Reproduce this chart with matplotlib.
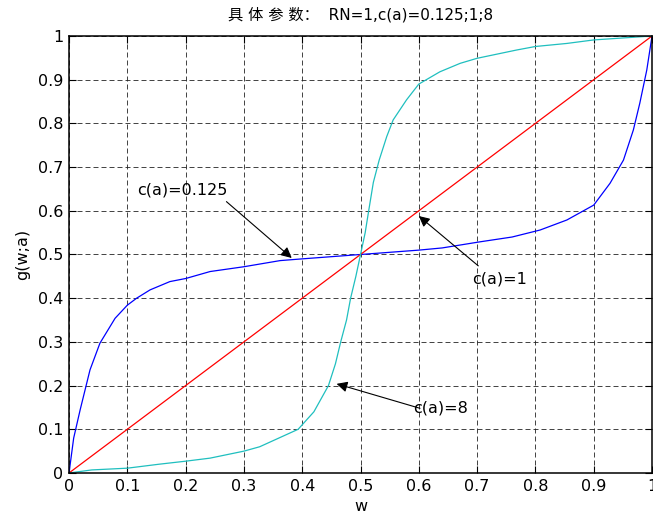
import numpy as np
import matplotlib
matplotlib.use("Agg")
import matplotlib.pyplot as plt

plt.rcParams['font.family'] = ['DejaVu Sans', 'Noto Sans CJK SC']

# values
w_red = [0.0, 0.1, 0.2, 0.3, 0.4, 0.5, 0.6, 0.7, 0.8, 0.9, 1.0]
g_red = [0.0, 0.1, 0.2, 0.3, 0.4, 0.5, 0.6, 0.7, 0.8, 0.9, 1.0]

w_blue = [0.0, 0.008, 0.019, 0.036, 0.053, 0.079, 0.1, 0.116, 0.139, 0.173, 0.2, 0.242,
          0.3, 0.362, 0.4, 0.5, 0.6, 0.64, 0.705, 0.76, 0.808, 0.854, 0.9, 0.928,
          0.951, 0.968, 0.979, 0.991, 1.0]
g_blue = [0.0, 0.08, 0.144, 0.236, 0.297, 0.354, 0.384, 0.4, 0.419, 0.438, 0.445, 0.461,
          0.472, 0.486, 0.49, 0.5, 0.51, 0.515, 0.529, 0.54, 0.556, 0.579, 0.613, 0.663,
          0.716, 0.785, 0.846, 0.922, 1.0]

w_cyan = [0.0, 0.039, 0.1, 0.154, 0.2, 0.242, 0.3, 0.327, 0.36, 0.393, 0.42, 0.445,
          0.457, 0.466, 0.476, 0.483, 0.492, 0.5, 0.508, 0.514, 0.522, 0.532, 0.545,
          0.556, 0.579, 0.6, 0.636, 0.671, 0.7, 0.768, 0.8, 0.854, 0.9, 1.0]
g_cyan = [0.0, 0.007, 0.011, 0.02, 0.027, 0.034, 0.05, 0.06, 0.08, 0.1, 0.14, 0.2,
          0.25, 0.3, 0.35, 0.4, 0.45, 0.5, 0.55, 0.6, 0.665, 0.716, 0.77,
          0.808, 0.854, 0.89, 0.918, 0.9375, 0.949, 0.968, 0.976, 0.983, 0.991, 1.0]

ticks = [0.0, 0.1, 0.2, 0.3, 0.4, 0.5, 0.6, 0.7, 0.8, 0.9, 1.0]
tick_labels = ['0', '0.1', '0.2', '0.3', '0.4', '0.5', '0.6', '0.7', '0.8', '0.9', '1']

fig = plt.figure(figsize=(6.53, 5.18), dpi=100)
ax = fig.add_axes([0.1057, 0.0869, 0.8928, 0.8436])

ax.plot(w_blue, g_blue, color='#0000ff', lw=0.9)
ax.plot(w_red, g_red, color='#ff0000', lw=0.9)
ax.plot(w_cyan, g_cyan, color='#1fbfbf', lw=0.9)

ax.set_xlim(0, 1)
ax.set_ylim(0, 1)
ax.set_xticks(ticks)
ax.set_xticklabels(tick_labels)
ax.set_yticks(ticks)
ax.set_yticklabels(tick_labels)
ax.tick_params(direction='in', top=True, right=True, length=5, width=0.8,
               labelsize=11.5, pad=4)
ax.grid(True, color='#222222', linestyle=(0, (6, 3.6)), linewidth=0.6)
for s in ax.spines.values():
    s.set_linewidth(1.1)

ax.set_xlabel('w', fontsize=11.5, labelpad=4)
ax.set_ylabel('g(w;a)', fontsize=11.5, labelpad=6)
ax.set_title('具 体 参 数：  RN=1,c(a)=0.125;1;8', fontsize=11,
             family=['DejaVu Sans', 'Noto Sans CJK SC'], pad=12)

arrow = dict(arrowstyle='-|>', color='k', lw=0.8, mutation_scale=16,
             shrinkA=0, shrinkB=0)
ax.annotate('', xy=(0.382, 0.492), xytext=(0.27, 0.621), arrowprops=arrow)
ax.text(0.117, 0.648, 'c(a)=0.125', fontsize=11.5, va='center')
ax.annotate('', xy=(0.600, 0.588), xytext=(0.702, 0.474), arrowprops=arrow)
ax.text(0.691, 0.444, 'c(a)=1', fontsize=11.5, va='center')
ax.annotate('', xy=(0.459, 0.204), xytext=(0.602, 0.148), arrowprops=arrow)
ax.text(0.59, 0.149, 'c(a)=8', fontsize=11.5, va='center')

fig.savefig('out.png', dpi=100)
